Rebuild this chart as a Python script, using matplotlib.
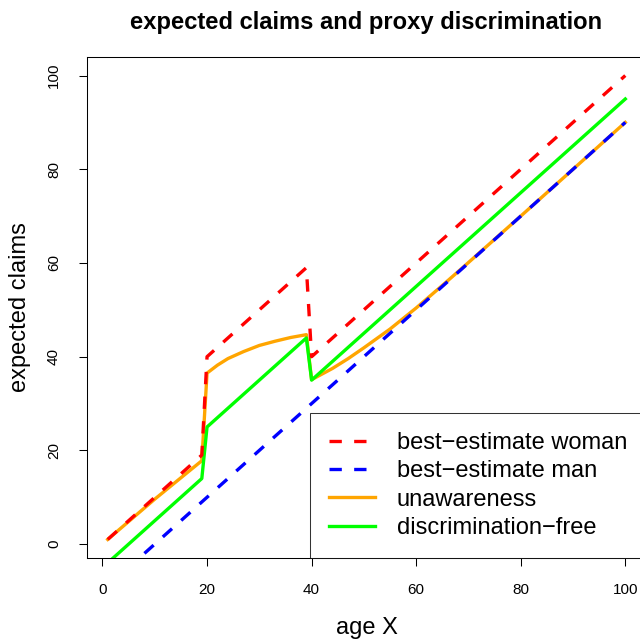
import matplotlib
matplotlib.use("Agg")
import matplotlib.pyplot as plt

plt.rcParams["font.family"] = ["Liberation Sans", "DejaVu Sans"]

# datos (edad -> siniestralidad esperada)
age_woman = [1, 19, 20, 39, 40, 100]
claims_woman = [1, 19, 40, 59, 40, 100]

age_man = [1, 100]
claims_man = [-9, 90]

age_unaware = [1, 10, 19, 20, 22, 24, 27, 30, 33, 36, 39, 40, 42, 44, 47,
               50, 55, 60, 65, 70, 80, 90, 100]
claims_unaware = [1, 9.6, 17.8, 36.5, 38.2, 39.6, 41.1, 42.4, 43.3, 44.1, 44.7,
                  35.1, 36.3, 37.5, 39.6, 41.9, 45.9, 50.4, 55.2, 60.1, 70, 80, 90]

age_free = [1, 19, 20, 39, 40, 100]
claims_free = [-4, 14, 25, 44, 35, 95]

labels = ["best\u2212estimate woman", "best\u2212estimate man",
          "unawareness", "discrimination\u2212free"]

fig = plt.figure(figsize=(6.4, 6.41), dpi=100)
# el eje derecho queda fuera de la imagen, como en el original
ax = fig.add_axes([87 / 640, 83 / 641, 559 / 640, 501 / 641])

lw = 2.4
dash = (0, (3.7, 3.7))
l_w, = ax.plot(age_woman, claims_woman, color="#FF0000", lw=lw, ls=dash, zorder=3)
l_m, = ax.plot(age_man, claims_man, color="#0000FF", lw=lw, ls=dash, zorder=3)
l_u, = ax.plot(age_unaware, claims_unaware, color="#FFA500", lw=lw, zorder=2)
l_f, = ax.plot(age_free, claims_free, color="#00FF00", lw=lw, zorder=2.1)

ax.set_xlim(-2.96, 103.96)
ax.set_ylim(-2.96, 103.96)
ax.set_xticks([0, 20, 40, 60, 80, 100])
ax.set_yticks([0, 20, 40, 60, 80, 100])
ax.tick_params(axis="both", length=5.8, width=0.75, labelsize=11)
ax.tick_params(axis="x", pad=12)
ax.tick_params(axis="y", pad=13, labelrotation=90)
for t in ax.get_yticklabels():
    t.set_va("center")
for s in ax.spines.values():
    s.set_linewidth(0.75)

ax.set_title("expected claims and proxy discrimination", fontsize=17.1,
             fontweight="bold", pad=19.8)
ax.set_xlabel("age X", fontsize=17)
ax.xaxis.label.set_va("baseline")
ax.xaxis.set_label_coords(0.5, (558 - 634) / 501)
ax.set_ylabel("expected claims", fontsize=17)
ax.yaxis.set_label_coords((31 - 87) / 559, 0.5)

leg = ax.legend([l_w, l_m, l_u, l_f], labels, loc="lower right",
                bbox_to_anchor=(1, 0), borderaxespad=0, fontsize=17,
                frameon=True, fancybox=False, edgecolor="black",
                handlelength=1.95, handletextpad=0.92, borderpad=0.8,
                labelspacing=0.27)
leg.get_frame().set_linewidth(0.75)
leg.set_zorder(5)

fig.savefig("out.png", dpi=100, facecolor="white")
